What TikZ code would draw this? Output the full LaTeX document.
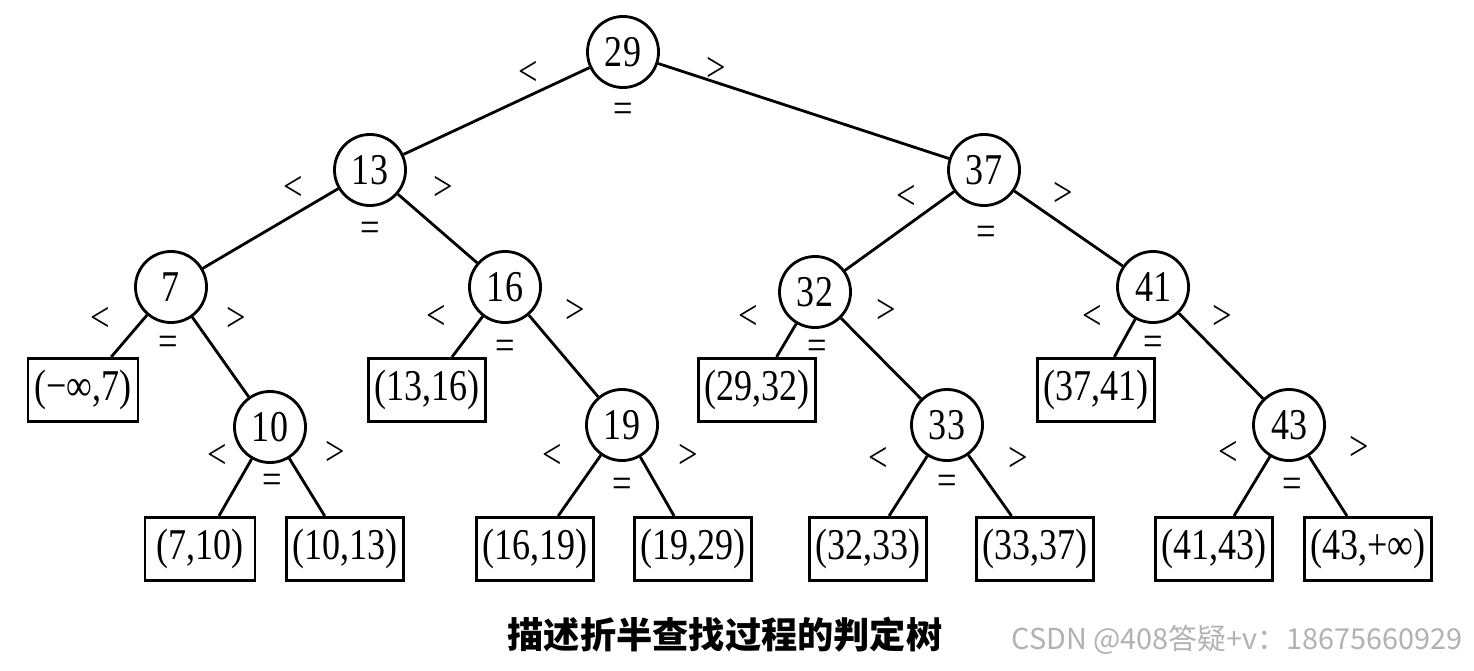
\documentclass[tikz,border=0pt]{standalone}
\usepackage{fontspec}
\setmainfont{Liberation Serif}
\newfontfamily\narrowserif[FakeStretch=0.82]{Liberation Serif}
\newfontfamily\cjk{Noto Sans CJK SC}
\begin{document}
\begin{tikzpicture}[x=0.01cm, y=-0.01cm, line width=0.8pt,
  key/.style={draw, circle, minimum size=0.71cm, inner sep=0pt, font=\narrowserif\fontsize{12.5}{14}\selectfont},
  interval/.style={draw, rectangle, minimum height=0.6cm, minimum width=1.1cm, inner xsep=0.06cm, font=\narrowserif\fontsize{12.5}{14}\selectfont},
  cmp/.style={inner sep=0pt, font=\narrowserif\fontsize{12}{14}\selectfont}]
\useasboundingbox[fill=white] (0,0) rectangle (1474,670);
\node[key] (n29) at (623,52) {29};
\node[key] (n13) at (370,170) {13};
\node[key] (n37) at (984,170) {37};
\node[key] (n7) at (171,287) {7};
\node[key] (n16) at (505,287) {16};
\node[key] (n32) at (815,292) {32};
\node[key] (n41) at (1153,287) {41};
\node[key] (n10) at (270,427) {10};
\node[key] (n19) at (622,425) {19};
\node[key] (n33) at (947,425) {33};
\node[key] (n43) at (1289,425) {43};
\node[interval] (r0) at (83,390) {(−∞,7)};
\node[interval] (r13) at (427,390) {(13,16)};
\node[interval] (r29) at (757,390) {(29,32)};
\node[interval] (r37) at (1096,390) {(37,41)};
\node[interval] (r7) at (200,549) {(7,10)};
\node[interval] (r10) at (345,549) {(10,13)};
\node[interval] (r16) at (535,549) {(16,19)};
\node[interval] (r19) at (693,549) {(19,29)};
\node[interval] (r32) at (868,549) {(32,33)};
\node[interval] (r33) at (1035,549) {(33,37)};
\node[interval] (r41) at (1214,549) {(41,43)};
\node[interval] (r43) at (1368,549) {(43,+∞)};
\draw (n29) -- (n13);
\draw (n29) -- (n37);
\draw (n13) -- (n7);
\draw (n13) -- (n16);
\draw (n37) -- (n32);
\draw (n37) -- (n41);
\draw (n7) -- (r0);
\draw (n7) -- (n10);
\draw (n16) -- (r13);
\draw (n16) -- (n19);
\draw (n32) -- (r29);
\draw (n32) -- (n33);
\draw (n41) -- (r37);
\draw (n41) -- (n43);
\draw (n10) -- (r7);
\draw (n10) -- (r10);
\draw (n19) -- (r16);
\draw (n19) -- (r19);
\draw (n33) -- (r32);
\draw (n33) -- (r33);
\draw (n43) -- (r41);
\draw (n43) -- (r43);
\node[cmp] (lt29) at (528,73) {<};
\node[cmp] (gt29) at (716,69) {>};
\node[cmp] (eq29) at (623,113) {=};
\node[cmp] (lt13) at (293,188) {<};
\node[cmp] (gt13) at (443,188) {>};
\node[cmp] (eq13) at (370,232) {=};
\node[cmp] (lt37) at (906,197) {<};
\node[cmp] (gt37) at (1063,194) {>};
\node[cmp] (eq37) at (986,236) {=};
\node[cmp] (lt7) at (100,319) {<};
\node[cmp] (gt7) at (236,319) {>};
\node[cmp] (eq7) at (168,346) {=};
\node[cmp] (lt16) at (436,317) {<};
\node[cmp] (gt16) at (575,311) {>};
\node[cmp] (eq16) at (505,350) {=};
\node[cmp] (lt32) at (748,317) {<};
\node[cmp] (gt32) at (886,311) {>};
\node[cmp] (eq32) at (817,350) {=};
\node[cmp] (lt41) at (1092,317) {<};
\node[cmp] (gt41) at (1222,317) {>};
\node[cmp] (eq41) at (1153,346) {=};
\node[cmp] (lt10) at (217,456) {<};
\node[cmp] (gt10) at (335,453) {>};
\node[cmp] (eq10) at (272,484) {=};
\node[cmp] (lt19) at (552,456) {<};
\node[cmp] (gt19) at (688,456) {>};
\node[cmp] (eq19) at (622,488) {=};
\node[cmp] (lt33) at (878,459) {<};
\node[cmp] (gt33) at (1018,459) {>};
\node[cmp] (eq33) at (947,485) {=};
\node[cmp] (lt43) at (1228,453) {<};
\node[cmp] (gt43) at (1359,448) {>};
\node[cmp] (eq43) at (1292,488) {=};
\node[font=\cjk\bfseries\fontsize{10.3}{12}\selectfont, inner sep=0pt] (title) at (725,635) {描述折半查找过程的判定树};
\node[font=\cjk\fontsize{8.2}{10}\selectfont, text=black!30, inner sep=0pt, anchor=west] (mark) at (1010,640) {CSDN @408答疑+v：18675660929};
\end{tikzpicture}
\end{document}
